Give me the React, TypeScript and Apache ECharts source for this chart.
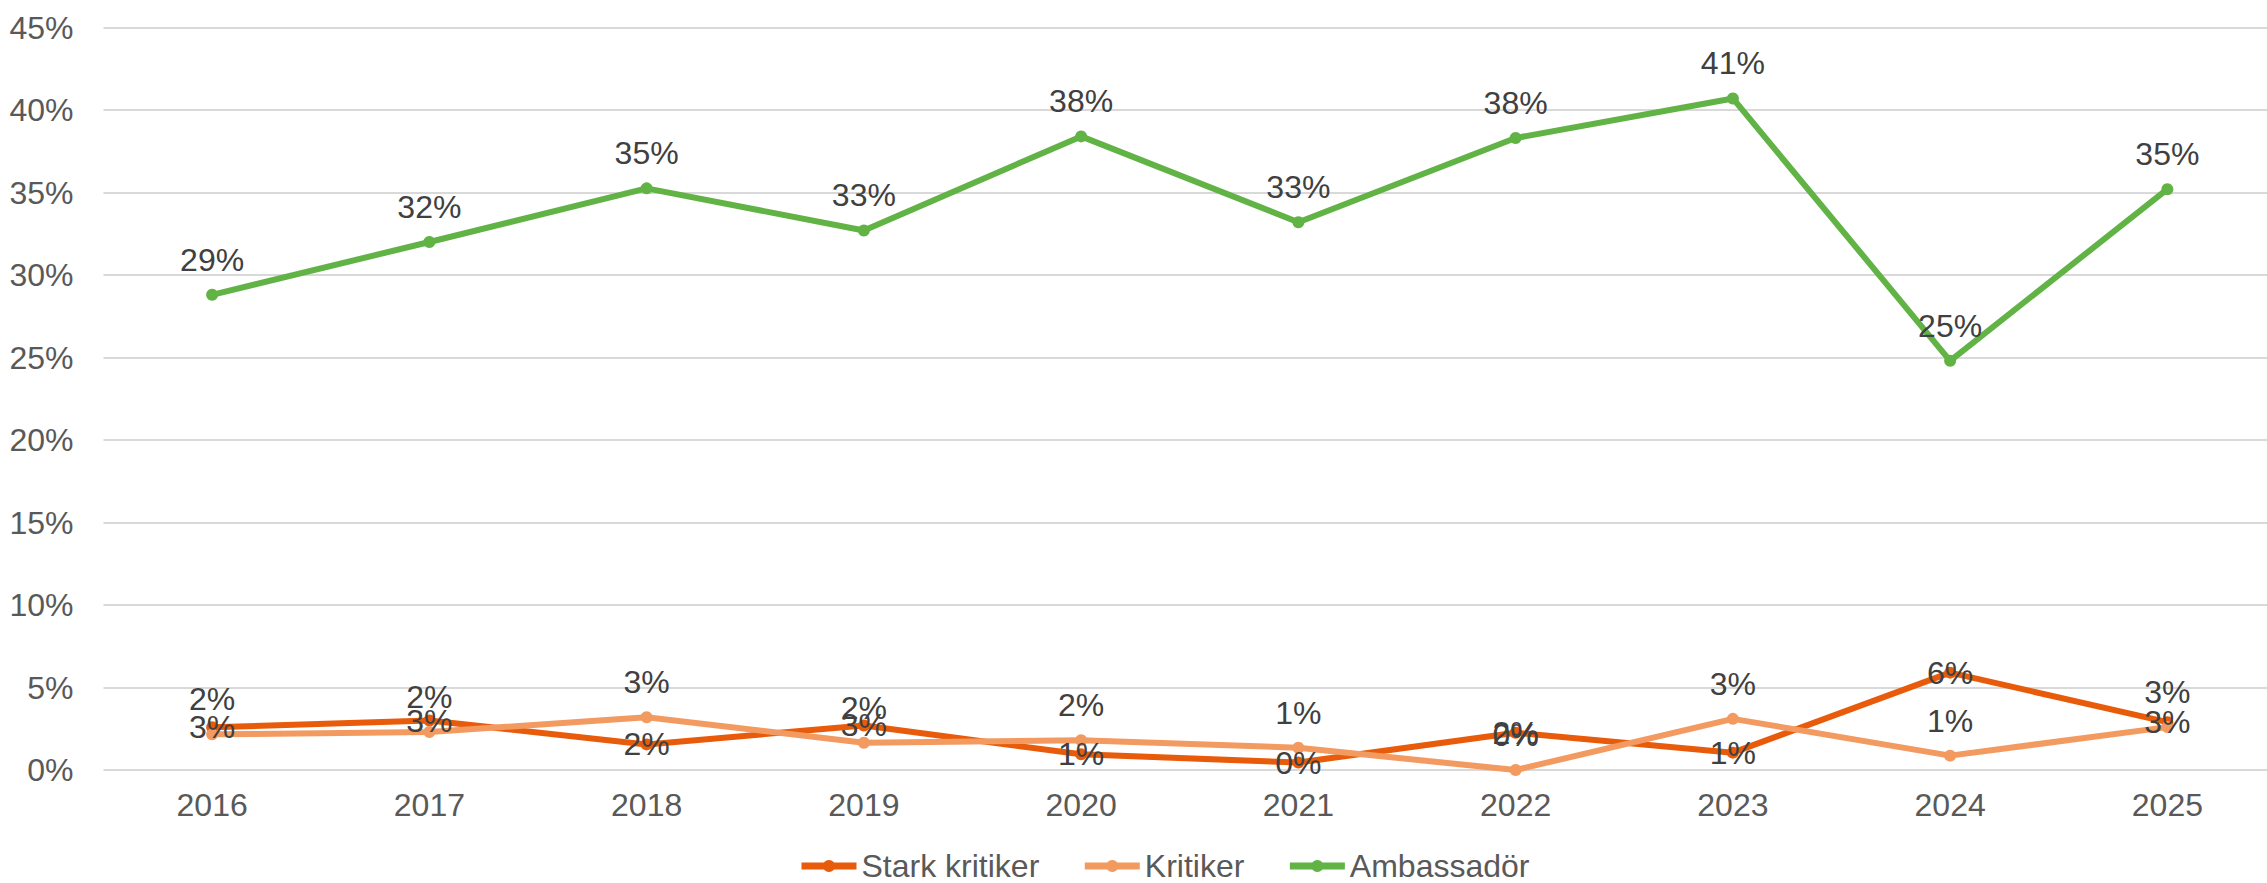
import React, { useEffect, useRef } from "react";
import * as echarts from "echarts";

const categories = ["2016", "2017", "2018", "2019", "2020", "2021", "2022", "2023", "2024", "2025"];
const starkKritiker = [2.59, 3.0, 1.55, 2.7, 0.95, 0.45, 2.26, 1.05, 5.9, 2.9];
const kritiker = [2.16, 2.3, 3.2, 1.65, 1.8, 1.35, 0, 3.1, 0.87, 2.6];
const ambassador = [28.8, 32.0, 35.25, 32.7, 38.4, 33.2, 38.3, 40.7, 24.8, 35.2];
const seriesNames = ["Stark kritiker", "Kritiker", "Ambassadör"];
const colors = ["#E85B0A", "#F39A60", "#62B346"];

const FONT = "'Liberation Sans', Arial, sans-serif";

export default function App() {
  const ref = useRef<HTMLDivElement>(null);
  useEffect(() => {
    if (!ref.current) return;
    const chart = echarts.init(ref.current, null, { renderer: "svg" });
    const fmt = (p: any) => Math.round(p.value) + "%";
    const mk = (name: string, data: number[], color: string, pos: string, dist: number) => ({
      name,
      type: "line",
      data,
      symbol: "circle",
      symbolSize: 12,
      lineStyle: { color, width: 6 },
      itemStyle: { color },
      label: {
        show: true,
        position: pos,
        distance: dist,
        formatter: fmt,
        color: "#404040",
        fontSize: 32,
        fontFamily: FONT,
      },
      emphasis: { disabled: true },
    });
    chart.setOption({
      animation: false,
      textStyle: { fontFamily: FONT },
      grid: { left: 103.5, right: -9, top: 27.5, bottom: 113, outerBoundsMode: "none" },
      xAxis: {
        type: "category",
        data: categories,
        boundaryGap: true,
        axisLine: { show: false },
        axisTick: { show: false },
        axisLabel: { color: "#595959", fontSize: 32, fontFamily: FONT, margin: 19 },
      },
      yAxis: {
        type: "value",
        min: 0,
        max: 45,
        interval: 5,
        axisLine: { show: false },
        axisTick: { show: false },
        splitLine: { lineStyle: { color: "#D9D9D9", width: 2 } },
        axisLabel: { color: "#595959", fontSize: 32, fontFamily: FONT, margin: 30, formatter: "{value}%" },
      },
      legend: {
        data: seriesNames,
        left: 798,
        top: 850,
        padding: 0,
        itemWidth: 55,
        itemHeight: 15,
        itemGap: 42,
        lineStyle: { width: 7 },
        textStyle: { color: "#595959", fontSize: 32, lineHeight: 32, fontFamily: FONT },
      },
      series: [
        mk(seriesNames[0], starkKritiker, colors[0], "inside", 0),
        mk(seriesNames[1], kritiker, colors[1], "top", 13),
        mk(seriesNames[2], ambassador, colors[2], "top", 13),
      ],
    });
    return () => chart.dispose();
  }, []);
  return (
    <div
      ref={ref}
      style={{ position: "fixed", left: 0, top: 0, width: 2267, height: 883, background: "#fff" }}
    />
  );
}
